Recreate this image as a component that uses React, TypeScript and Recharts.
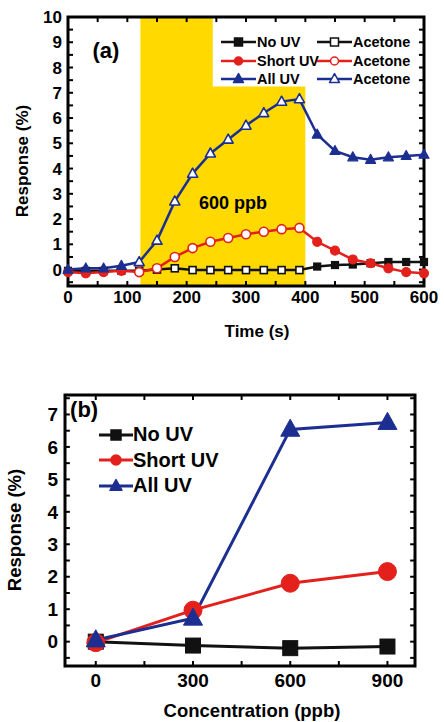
import React from 'react';
import { LineChart, Line, XAxis, YAxis, ReferenceArea, ReferenceDot, ReferenceLine, Legend, Label } from 'recharts';

const FONT = '"Liberation Sans", Arial, Helvetica, sans-serif';
const BLACK = '#111111';
const RED = '#e3201c';
const BLUE = '#1c2f91';
const YELLOW = '#ffd900';

// (a) response vs time, 600 ppb acetone
const times = [0, 30, 60, 90, 120, 150, 180, 210, 240, 270, 300, 330, 360, 390, 420, 450, 480, 510, 540, 570, 600];
const noUvA = [-0.05, -0.05, -0.05, -0.05, -0.05, 0.0, 0.05, -0.02, -0.02, -0.02, -0.02, -0.02, -0.02, -0.02, 0.12, 0.18, 0.2, 0.25, 0.3, 0.3, 0.3];
const shortUvA = [-0.1, -0.15, -0.1, -0.05, -0.1, 0.05, 0.5, 0.85, 1.1, 1.25, 1.4, 1.5, 1.6, 1.65, 1.1, 0.75, 0.4, 0.25, 0.05, -0.1, -0.15];
const allUvA = [0.0, 0.05, 0.05, 0.15, 0.3, 1.15, 2.7, 3.8, 4.6, 5.15, 5.7, 6.2, 6.65, 6.75, 5.35, 4.7, 4.45, 4.35, 4.45, 4.5, 4.55];
const acetoneMarks = [120, 390]; // hollow markers while gas is on
const gasBand = [122, 400];
const domainTime = [0, 600];
const domainRespA = [-0.65, 10];

const timeTicks = [0, 50, 100, 150, 200, 250, 300, 350, 400, 450, 500, 550, 600];
const respTicksA = [-0.5, 0, 0.5, 1, 1.5, 2, 2.5, 3, 3.5, 4, 4.5, 5, 5.5, 6, 6.5, 7, 7.5, 8, 8.5, 9, 9.5, 10];

// (b) response vs concentration
const conc = [0, 300, 600, 900];
const noUvB = [0.0, -0.12, -0.2, -0.15];
const shortUvB = [-0.03, 0.97, 1.8, 2.16];
const allUvB = [0.05, 0.72, 6.54, 6.75];
const domainConc = [-95, 985];
const domainRespB = [-0.75, 7.6];

const concTicks = [0, 150, 300, 450, 600, 750, 900];
const respTicksB = [-0.5, 0, 0.5, 1, 1.5, 2, 2.5, 3, 3.5, 4, 4.5, 5, 5.5, 6, 6.5, 7, 7.5];

const dataA = times.map((t, i) => ({ t, noUv: noUvA[i], shortUv: shortUvA[i], allUv: allUvA[i] }));
const dataB = conc.map((c, i) => ({ c, noUv: noUvB[i], shortUv: shortUvB[i], allUv: allUvB[i] }));

type Shape = 'square' | 'circle' | 'triangle';

const Marker = ({ cx, cy, shape, size, fill, stroke, sw = 1.5 }: any) => {
  if (shape === 'square')
    return <rect x={cx - size / 2} y={cy - size / 2} width={size} height={size} fill={fill} stroke={stroke} strokeWidth={sw} />;
  if (shape === 'circle') return <circle cx={cx} cy={cy} r={size / 2} fill={fill} stroke={stroke} strokeWidth={sw} />;
  const h = size * 0.9;
  return (
    <polygon
      points={`${cx},${cy - h * 0.6} ${cx - size / 2},${cy + h * 0.4} ${cx + size / 2},${cy + h * 0.4}`}
      fill={fill}
      stroke={stroke}
      strokeWidth={sw}
      strokeLinejoin="round"
    />
  );
};

const timeDot = (shape: Shape, color: string, size: number) => (p: any) => {
  if (p.cx == null || p.cy == null) return <g key={p.index} />;
  const hollow = p.payload.t >= acetoneMarks[0] && p.payload.t <= acetoneMarks[1];
  return (
    <Marker key={p.index} cx={p.cx} cy={p.cy} shape={shape} size={size} fill={hollow ? '#ffffff' : color} stroke={color} sw={hollow ? 1.6 : 1.2} />
  );
};

const concDot = (shape: Shape, color: string, size: number) => (p: any) => {
  if (p.cx == null || p.cy == null) return <g key={p.index} />;
  return <Marker key={p.index} cx={p.cx} cy={p.cy} shape={shape} size={size} fill={color} stroke={color} sw={1} />;
};

const tickStyle = (size: number) => ({ fill: '#000', fontSize: size, fontWeight: 700, fontFamily: FONT });

const LegendIcon = ({ shape, color, hollow, size, w, sw }: any) => (
  <svg width={w} height={16} style={{ display: 'block' }}>
    <line x1={0} y1={8} x2={w} y2={8} stroke={color} strokeWidth={sw} />
    <Marker cx={w / 2} cy={8} shape={shape} size={size} fill={hollow ? '#fff' : color} stroke={color} sw={1.5} />
  </svg>
);

const legendRows: [string, Shape, string][] = [
  ['No UV', 'square', BLACK],
  ['Short UV', 'circle', RED],
  ['All UV', 'triangle', BLUE],
];

const TopLegend = () => (
  <div style={{ position: 'absolute', left: 0, top: 0, width: 0, height: 0 }}>
    {legendRows.map(([name, shape, color], i) => (
      <React.Fragment key={name}>
        <div style={{ position: 'absolute', left: 221, top: 34 + i * 18.5, display: 'flex', alignItems: 'center', whiteSpace: 'nowrap' }}>
          <LegendIcon shape={shape} color={color} size={shape === 'triangle' ? 10 : 8} w={35} sw={2.5} />
          <span style={{ fontFamily: FONT, fontWeight: 700, fontSize: 14.5, color: '#000', marginLeft: 1 }}>{name}</span>
        </div>
        <div style={{ position: 'absolute', left: 317, top: 34 + i * 18.5, display: 'flex', alignItems: 'center', whiteSpace: 'nowrap' }}>
          <LegendIcon shape={shape} color={color} hollow size={shape === 'triangle' ? 10 : 8} w={35} sw={2.5} />
          <span style={{ fontFamily: FONT, fontWeight: 700, fontSize: 14.5, color: '#000', marginLeft: 1 }}>Acetone</span>
        </div>
      </React.Fragment>
    ))}
  </div>
);

const BottomLegend = () => (
  <div style={{ position: 'absolute', left: 0, top: 0, width: 0, height: 0 }}>
    {legendRows.map(([name, shape, color], i) => (
      <div key={name} style={{ position: 'absolute', left: 99, top: 63 + i * 25.5, display: 'flex', alignItems: 'center', whiteSpace: 'nowrap' }}>
        <LegendIcon shape={shape} color={color} size={shape === 'triangle' ? 12 : 10} w={34} sw={3} />
        <span style={{ fontFamily: FONT, fontWeight: 700, fontSize: 20, color: '#000' }}>{name}</span>
      </div>
    ))}
  </div>
);

const textStyle = { fontFamily: FONT, fontWeight: 700, fill: '#000' };

// short inward tick marks on all four sides of the frame
const frameTicks = (xDom: number[], xTicks: number[], yDom: number[], yTicks: number[], dx: number, dy: number) => [
  ...xTicks.map((t) => (
    <ReferenceLine key={`b${t}`} segment={[{ x: t, y: yDom[0] }, { x: t, y: yDom[0] + dy }]} stroke="#000" strokeWidth={2} />
  )),
  ...xTicks.map((t) => (
    <ReferenceLine key={`t${t}`} segment={[{ x: t, y: yDom[1] }, { x: t, y: yDom[1] - dy }]} stroke="#000" strokeWidth={2} />
  )),
  ...yTicks.map((v) => (
    <ReferenceLine key={`l${v}`} segment={[{ x: xDom[0], y: v }, { x: xDom[0] + dx, y: v }]} stroke="#000" strokeWidth={2} />
  )),
  ...yTicks.map((v) => (
    <ReferenceLine key={`r${v}`} segment={[{ x: xDom[1], y: v }, { x: xDom[1] - dx, y: v }]} stroke="#000" strokeWidth={2} />
  )),
];

const TimeChart = () => (
  <LineChart width={444} height={345} data={dataA} margin={{ top: 17, right: 20, bottom: 0, left: 0 }}>
    <ReferenceArea x1={gasBand[0]} x2={gasBand[1]} y1={domainRespA[0]} y2={domainRespA[1]} fill={YELLOW} fillOpacity={1} stroke="none" />
    <ReferenceArea x1={244} x2={600} y1={7.25} y2={domainRespA[1]} fill="#ffffff" fillOpacity={1} stroke="none" />
    <ReferenceArea x1={domainTime[0]} x2={domainTime[1]} y1={domainRespA[0]} y2={domainRespA[1]} fill="none" stroke="#000" strokeWidth={3} />
    {frameTicks(domainTime, timeTicks, domainRespA, respTicksA, 8.5, 0.2)}
    <XAxis
      dataKey="t"
      type="number"
      domain={domainTime}
      ticks={timeTicks}
      interval={0}
      height={59}
      tickSize={0}
      tickMargin={5}
      tickLine={false}
      axisLine={false}
      tick={tickStyle(17)}
      tickFormatter={(v: number) => (v % 100 === 0 ? String(v) : '')}
    >
      <Label content={() => <text x={257} y={331} textAnchor="middle" dominantBaseline="central" fontSize={17} {...textStyle}>Time (s)</text>} />
    </XAxis>
    <YAxis
      type="number"
      domain={domainRespA}
      ticks={respTicksA}
      interval={0}
      width={68}
      tickSize={0}
      tickMargin={6}
      tickLine={false}
      axisLine={false}
      tick={tickStyle(17)}
      tickFormatter={(v: number) => (Number.isInteger(v) ? String(v) : '')}
    >
      <Label content={() => <text x={22} y={161} transform="rotate(-90 22 161)" textAnchor="middle" dominantBaseline="central" fontSize={17} {...textStyle}>Response (%)</text>} />
    </YAxis>
    <ReferenceDot x={278} y={2.65} r={0} fill="none" stroke="none" label={{ value: '600 ppb', position: 'center', fontSize: 18, fontWeight: 700, fill: '#000', fontFamily: FONT }} />
    <ReferenceDot x={64} y={8.7} r={0} fill="none" stroke="none" label={{ value: '(a)', position: 'center', fontSize: 22, fontWeight: 700, fill: '#000', fontFamily: FONT }} />
    <Line type="linear" dataKey="noUv" stroke={BLACK} strokeWidth={2.5} dot={timeDot('square', BLACK, 7)} isAnimationActive={false} />
    <Line type="linear" dataKey="shortUv" stroke={RED} strokeWidth={2.5} dot={timeDot('circle', RED, 9)} isAnimationActive={false} />
    <Line type="linear" dataKey="allUv" stroke={BLUE} strokeWidth={2.5} dot={timeDot('triangle', BLUE, 10)} isAnimationActive={false} />
    <Legend verticalAlign="top" wrapperStyle={{ left: 0, top: 0, width: 0, height: 0 }} content={() => <TopLegend />} />
  </LineChart>
);

const ConcChart = () => (
  <LineChart width={444} height={362} data={dataB} margin={{ top: 35, right: 29, bottom: 0, left: 0 }}>
    <ReferenceArea x1={domainConc[0]} x2={domainConc[1]} y1={domainRespB[0]} y2={domainRespB[1]} fill="none" stroke="#000" strokeWidth={3} />
    {frameTicks(domainConc, concTicks, domainRespB, respTicksB, 15, 0.155)}
    <XAxis
      dataKey="c"
      type="number"
      domain={domainConc}
      ticks={concTicks}
      interval={0}
      height={56}
      tickSize={0}
      tickMargin={8}
      tickLine={false}
      axisLine={false}
      tick={tickStyle(19)}
      tickFormatter={(v: number) => (v % 300 === 0 ? String(v) : '')}
    >
      <Label content={() => <text x={252} y={350} textAnchor="middle" dominantBaseline="central" fontSize={18.5} {...textStyle}>Concentration (ppb)</text>} />
    </XAxis>
    <YAxis
      type="number"
      domain={domainRespB}
      ticks={respTicksB}
      interval={0}
      width={65}
      tickSize={0}
      tickMargin={7}
      tickLine={false}
      axisLine={false}
      tick={tickStyle(19)}
      tickFormatter={(v: number) => (Number.isInteger(v) ? String(v) : '')}
    >
      <Label content={() => <text x={14} y={170} transform="rotate(-90 14 170)" textAnchor="middle" dominantBaseline="central" fontSize={18.5} {...textStyle}>Response (%)</text>} />
    </YAxis>
    <ReferenceDot x={-36} y={7.15} r={0} fill="none" stroke="none" label={{ value: '(b)', position: 'center', fontSize: 22, fontWeight: 700, fill: '#000', fontFamily: FONT }} />
    <Line type="linear" dataKey="noUv" stroke={BLACK} strokeWidth={3} dot={concDot('square', BLACK, 15)} isAnimationActive={false} />
    <Line type="linear" dataKey="shortUv" stroke={RED} strokeWidth={3} dot={concDot('circle', RED, 18)} isAnimationActive={false} />
    <Line type="linear" dataKey="allUv" stroke={BLUE} strokeWidth={3} dot={concDot('triangle', BLUE, 19)} isAnimationActive={false} />
    <Legend verticalAlign="top" wrapperStyle={{ left: 0, top: 0, width: 0, height: 0 }} content={() => <BottomLegend />} />
  </LineChart>
);

export default function App() {
  return (
    <div style={{ position: 'absolute', left: 0, top: 0, width: 444, height: 722, background: '#fff' }}>
      <div style={{ position: 'absolute', left: 0, top: 0 }}>
        <TimeChart />
      </div>
      <div style={{ position: 'absolute', left: 0, top: 360 }}>
        <ConcChart />
      </div>
    </div>
  );
}
